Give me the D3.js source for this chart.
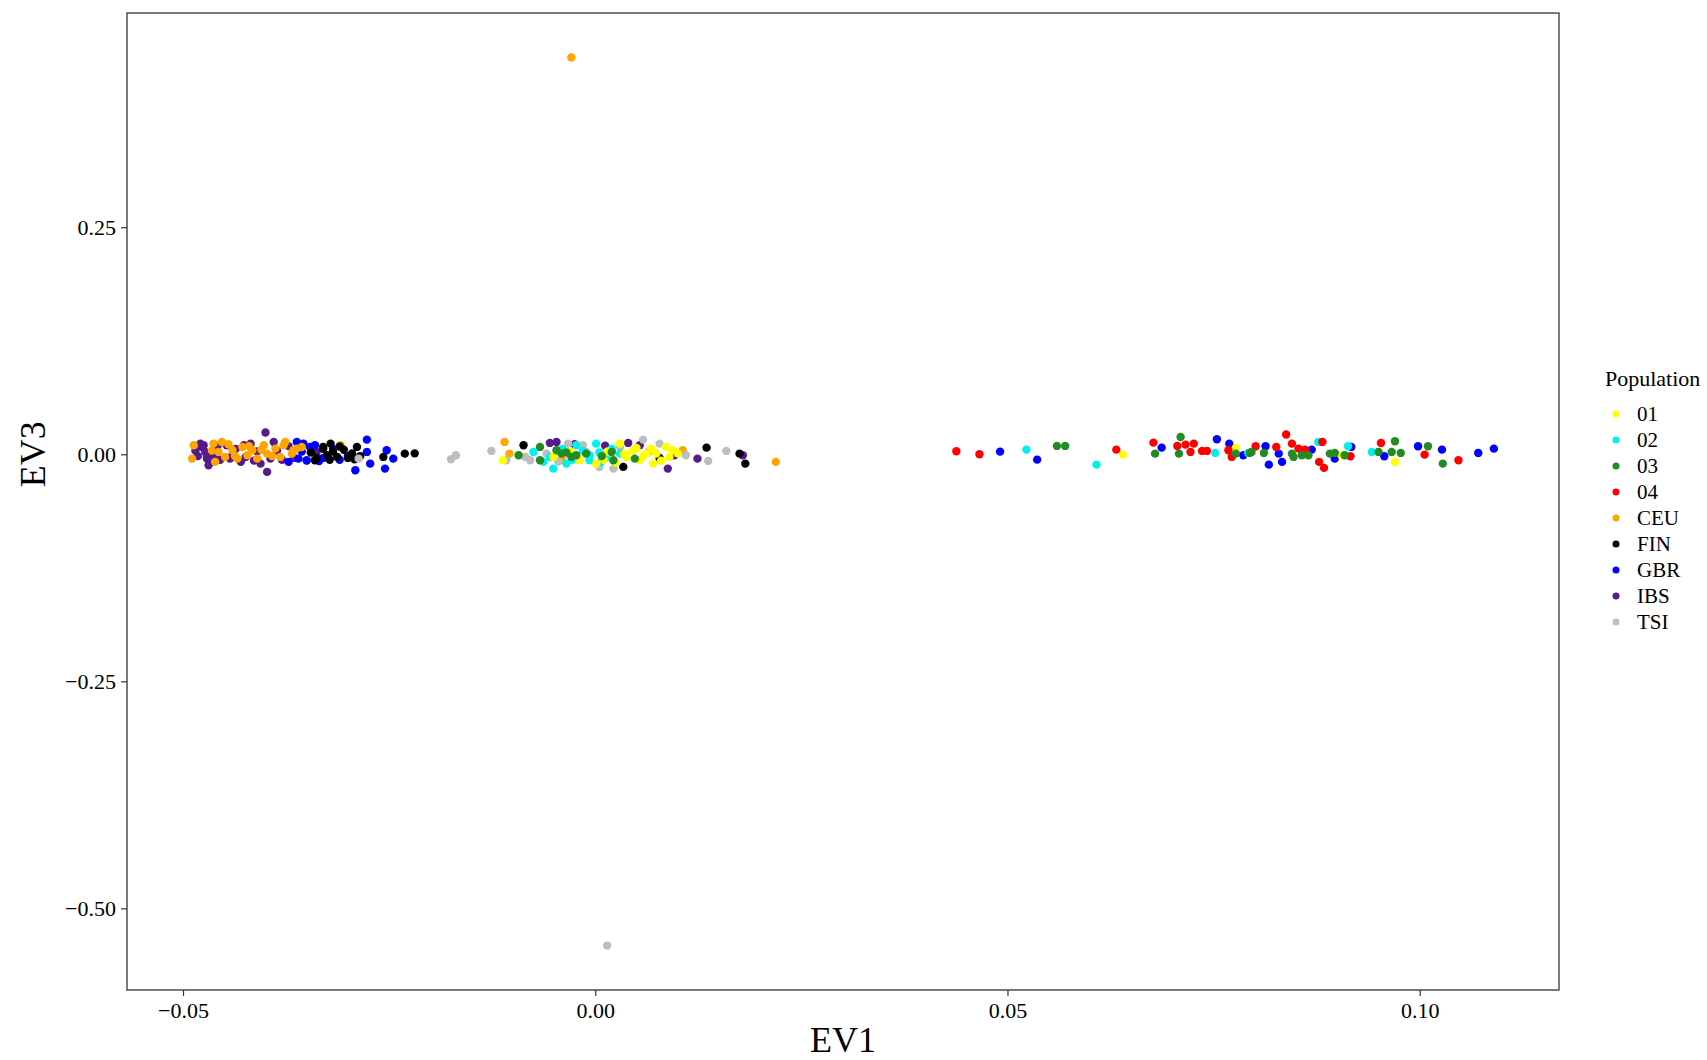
<!DOCTYPE html>
<html>
<head>
<meta charset="utf-8">
<script src="https://cdn.jsdelivr.net/npm/d3@7"></script>
<style>
  html, body { margin: 0; padding: 0; background: #fff; }
  svg { display: block; }
  text { font-family: "Liberation Serif", "Times New Roman", serif; }
</style>
</head>
<body>
<svg id="chart" width="1707" height="1060"></svg>
<script>
// ---------- data (EV1, EV3) ----------
const populations = ["01", "02", "03", "04", "CEU", "FIN", "GBR", "IBS", "TSI"];
const popColors = ["#FFFF00", "#00F0F0", "#228B22", "#FF0000", "#FFA500", "#000000", "#0000FF", "#551A8B", "#BEBEBE"];
const xTicks = [-0.05, 0.00, 0.05, 0.10];
const yTicks = [-0.50, -0.25, 0.00, 0.25];
const xLabel = "EV1";
const yLabel = "EV3";
const legendTitle = "Population";

const IBS = [
  [-0.0479, 0.0117], [-0.0473, 0.0026], [-0.0471, -0.0048], [-0.0469, -0.0121], [-0.0475, 0.0099],
  [-0.0447, 0.0099], [-0.0430, -0.0084], [-0.0418, 0.0117], [-0.0406, -0.0103], [-0.0400, 0.0240],
  [-0.0394, -0.0048], [-0.0390, 0.0136], [-0.0398, -0.0194], [-0.0477, 0.0081], [-0.0471, -0.0029],
  [-0.0467, -0.0066], [-0.0443, -0.0048], [-0.0338, 0.0026], [-0.0485, 0.0040], [-0.0462, 0.0000],
  [-0.0455, -0.0060], [-0.0436, 0.0060], [-0.0424, -0.0030], [-0.0410, 0.0030], [-0.0380, -0.0060],
  [-0.0365, -0.0040], [-0.0350, -0.0070], [-0.0482, -0.0020], [-0.0458, 0.0090], [-0.0440, -0.0010],
  [-0.0426, 0.0100], [-0.0414, -0.0070], [-0.0386, 0.0040], [-0.0372, 0.0090],
  [-0.0055, 0.0125], [-0.0047, 0.0136], [0.0040, 0.0125], [0.0054, 0.0099], [0.0096, -0.0011],
  [0.0088, -0.0158], [0.0124, -0.0048], [0.0179, -0.0011], [-0.0041, 0.0026], [-0.0025, 0.0110],
  [0.0012, 0.0095]
];
const GBR = [
  [-0.0362, 0.0136], [-0.0346, 0.0081], [-0.0350, -0.0066], [-0.0277, 0.0161], [-0.0277, 0.0026],
  [-0.0291, -0.0176], [-0.0273, -0.0103], [-0.0253, 0.0044], [-0.0255, -0.0158], [-0.0245, -0.0048],
  [-0.0354, 0.0117], [-0.0372, -0.0084], [-0.0360, -0.0048], [-0.0330, -0.0040], [-0.0318, 0.0060],
  [-0.0300, -0.0020], [-0.0340, 0.0100], [-0.0356, 0.0030], [-0.0335, -0.0075], [-0.0310, -0.0060],
  [0.0491, 0.0029], [0.0536, -0.0059], [0.0687, 0.0073], [0.0754, 0.0165], [0.0769, 0.0117],
  [0.0786, -0.0011], [0.0813, 0.0088], [0.0829, 0.0007], [0.0833, -0.0084], [0.0817, -0.0114],
  [0.0869, 0.0051], [0.0897, -0.0048], [0.0957, -0.0022], [0.0998, 0.0088], [0.1027, 0.0051],
  [0.1071, 0.0015], [0.1090, 0.0062], [0.0917, 0.0081]
];
const CEU = [
  [-0.0487, 0.0099], [-0.0489, -0.0048], [-0.0463, 0.0117], [-0.0457, 0.0026], [-0.0453, 0.0136],
  [-0.0449, -0.0029], [-0.0440, 0.0044], [-0.0434, -0.0048], [-0.0428, 0.0081], [-0.0422, -0.0011],
  [-0.0416, 0.0044], [-0.0410, -0.0048], [-0.0402, 0.0099], [-0.0398, 0.0007], [-0.0388, 0.0062],
  [-0.0382, -0.0029], [-0.0376, 0.0136], [-0.0368, 0.0007], [-0.0362, 0.0062], [-0.0461, -0.0084],
  [-0.0309, 0.0099], [-0.0366, 0.0044], [-0.0465, 0.0040], [-0.0445, 0.0110], [-0.0437, -0.0020],
  [-0.0420, 0.0090], [-0.0405, 0.0050], [-0.0392, -0.0020], [-0.0378, 0.0100], [-0.0356, 0.0080],
  [-0.0110, 0.0136], [-0.0104, 0.0007], [0.0106, 0.0044], [0.0219, -0.0084], [-0.0040, -0.0060],
  [-0.0029, 0.4370]
];
const FIN = [
  [-0.0321, 0.0117], [-0.0313, -0.0029], [-0.0289, 0.0081], [-0.0257, -0.0029], [-0.0231, 0.0007],
  [-0.0219, 0.0010], [-0.0345, 0.0020], [-0.0338, -0.0040], [-0.0330, 0.0060], [-0.0325, -0.0010],
  [-0.0318, 0.0030], [-0.0305, 0.0050], [-0.0300, -0.0040], [-0.0295, 0.0010], [-0.0285, -0.0020],
  [-0.0330, 0.0080], [-0.0340, -0.0065], [-0.0322, -0.0060], [-0.0310, 0.0085], [-0.0292, -0.0055],
  [-0.0087, 0.0099], [0.0034, -0.0139], [0.0135, 0.0073], [0.0175, 0.0007], [0.0182, -0.0103],
  [0.0078, -0.0040]
];
const TSI = [
  [-0.0287, -0.0048], [-0.0175, -0.0055], [-0.0169, -0.0011],
  [-0.0126, 0.0037], [-0.0108, -0.0066], [-0.0079, -0.0066], [-0.0059, 0.0007], [-0.0033, 0.0117],
  [-0.0011, 0.0026], [0.0014, -0.0029], [0.0022, -0.0158], [0.0058, 0.0161], [0.0078, 0.0117],
  [0.0110, -0.0011], [0.0137, -0.0073], [0.0159, 0.0037], [0.0005, -0.0140], [-0.0085, -0.0030],
  [-0.0045, -0.0080], [-0.0015, 0.0100], [0.0030, 0.0080], [0.0065, 0.0030],
  [0.00145, -0.5410]
];
const pop02 = [
  [-0.0075, 0.0026], [-0.0063, -0.0084], [-0.0051, -0.0158], [-0.0035, -0.0103], [-0.0023, 0.0099],
  [-0.0007, -0.0011], [0.0001, 0.0117], [0.0007, -0.0084], [-0.0007, -0.0066], [0.0030, 0.0007],
  [-0.0055, -0.0030], [-0.0040, 0.0060], [-0.0015, 0.0040], [0.0012, -0.0040], [0.0020, 0.0060],
  [-0.0028, -0.0060], [0.0005, 0.0020],
  [0.0523, 0.0051], [0.0608, -0.0114], [0.0752, 0.0015], [0.0792, 0.0015], [0.0877, 0.0136],
  [0.0913, 0.0088], [0.0942, 0.0026]
];
const pop01 = [
  [-0.0112, -0.0066], [-0.0051, -0.0029], [-0.0019, -0.0066], [0.0001, -0.0103], [0.0030, 0.0117],
  [0.0038, -0.0029], [0.0054, -0.0066], [0.0062, 0.0007], [0.0074, 0.0007], [0.0086, 0.0081],
  [0.0090, -0.0029], [0.0070, -0.0103], [0.0094, 0.0044], [0.0015, 0.0030], [0.0045, 0.0040],
  [-0.0030, 0.0030], [0.0010, -0.0060], [0.0025, -0.0090], [0.0050, 0.0070], [0.0058, -0.0020],
  [0.0068, 0.0060], [0.0080, -0.0070], [0.0100, 0.0010], [0.0035, 0.0000],
  [0.0640, -0.0004], [0.0777, 0.0070], [0.0905, -0.0011], [0.0970, -0.0084]
];
const pop04 = [
  [0.0438, 0.0033], [0.0466, 0.0000], [0.0632, 0.0051], [0.0677, 0.0128], [0.0706, 0.0092],
  [0.0716, 0.0106], [0.0726, 0.0117], [0.0722, 0.0026], [0.0736, 0.0037], [0.0742, 0.0037],
  [0.0768, 0.0044], [0.0772, -0.0029], [0.0801, 0.0088], [0.0826, 0.0081], [0.0838, 0.0217],
  [0.0845, 0.0117], [0.0853, 0.0062], [0.0861, 0.0051], [0.0882, 0.0136], [0.0878, -0.0084],
  [0.0884, -0.0150], [0.0916, -0.0022], [0.0953, 0.0124], [0.1006, -0.0004], [0.1047, -0.0066]
];
const pop03 = [
  [-0.0093, -0.0011], [-0.0067, 0.0081], [-0.0047, 0.0044], [-0.0041, 0.0007], [-0.0029, -0.0029],
  [-0.0023, -0.0011], [-0.0011, 0.0007], [0.0020, 0.0026], [0.0022, -0.0066], [0.0048, -0.0048],
  [-0.0067, -0.0066], [-0.0035, 0.0020], [0.0008, -0.0020],
  [0.0560, 0.0092], [0.0570, 0.0092], [0.0679, 0.0007], [0.0710, 0.0191], [0.0708, 0.0007],
  [0.0777, 0.0007], [0.0796, 0.0026], [0.0794, 0.0015], [0.0811, 0.0015], [0.0845, 0.0007],
  [0.0847, -0.0029], [0.0857, -0.0011], [0.0865, -0.0011], [0.0891, 0.0007], [0.0897, 0.0015],
  [0.0909, -0.0011], [0.0950, 0.0026], [0.0970, 0.0143], [0.0966, 0.0026], [0.0977, 0.0015],
  [0.1010, 0.0088], [0.1028, -0.0103]
];

// drawing order (later = on top)
const drawOrder = [["IBS", IBS], ["GBR", GBR], ["CEU", CEU], ["FIN", FIN], ["TSI", TSI],
                   ["02", pop02], ["01", pop01], ["04", pop04], ["03", pop03]];

// ---------- layout ----------
const svg = d3.select("#chart");
const panel = { left: 127, right: 1559, top: 13, bottom: 990 };

const points = [];
drawOrder.forEach(([pop, arr]) => arr.forEach(d => points.push({ pop, x: d[0], y: d[1] })));

function expand(ext, f) { const s = ext[1] - ext[0]; return [ext[0] - s * f, ext[1] + s * f]; }
const x = d3.scaleLinear().domain(expand(d3.extent(points, d => d.x), 0.05)).range([panel.left, panel.right]);
const y = d3.scaleLinear().domain(expand(d3.extent(points, d => d.y), 0.05)).range([panel.bottom, panel.top]);
const color = d3.scaleOrdinal().domain(populations).range(popColors);

const fmt = v => d3.format(".2f")(v).replace("-", "\u2212");

// points
svg.append("g").selectAll("circle").data(points).join("circle")
  .attr("cx", d => x(d.x)).attr("cy", d => y(d.y)).attr("r", 4.2)
  .attr("fill", d => color(d.pop));

// panel border
svg.append("rect").attr("x", panel.left).attr("y", panel.top)
  .attr("width", panel.right - panel.left).attr("height", panel.bottom - panel.top)
  .attr("fill", "none").attr("stroke", "#333").attr("stroke-width", 1.3);

// axes
const xAxis = svg.append("g").attr("transform", `translate(0,${panel.bottom})`)
  .call(d3.axisBottom(x).tickValues(xTicks).tickFormat(fmt).tickSize(6).tickPadding(6));
const yAxis = svg.append("g").attr("transform", `translate(${panel.left},0)`)
  .call(d3.axisLeft(y).tickValues(yTicks).tickFormat(fmt).tickSize(6).tickPadding(5));
[xAxis, yAxis].forEach(g => {
  g.select(".domain").remove();
  g.selectAll(".tick line").attr("stroke", "#333").attr("stroke-width", 1.2);
  g.selectAll(".tick text").attr("fill", "#000").style("font-size", "22px")
    .style("font-family", "'Liberation Serif', serif");
});

// axis titles
svg.append("text").attr("x", (panel.left + panel.right) / 2).attr("y", 1052)
  .attr("text-anchor", "middle").style("font-size", "36px").text(xLabel);
svg.append("text").attr("transform", `translate(45,${y(0)}) rotate(-90)`)
  .attr("text-anchor", "middle").style("font-size", "36px").text(yLabel);

// legend
const lg = svg.append("g").attr("transform", "translate(1605,0)");
lg.append("text").attr("x", 0).attr("y", 386).style("font-size", "22px").text(legendTitle);
const items = lg.selectAll("g.item").data(populations).join("g")
  .attr("class", "item").attr("transform", (d, i) => `translate(0,${414 + i * 26})`);
items.append("circle").attr("cx", 11).attr("cy", 0).attr("r", 3.5).attr("fill", d => color(d));
items.append("text").attr("x", 32).attr("y", 7).style("font-size", "21px").text(d => d);
</script>
</body>
</html>
